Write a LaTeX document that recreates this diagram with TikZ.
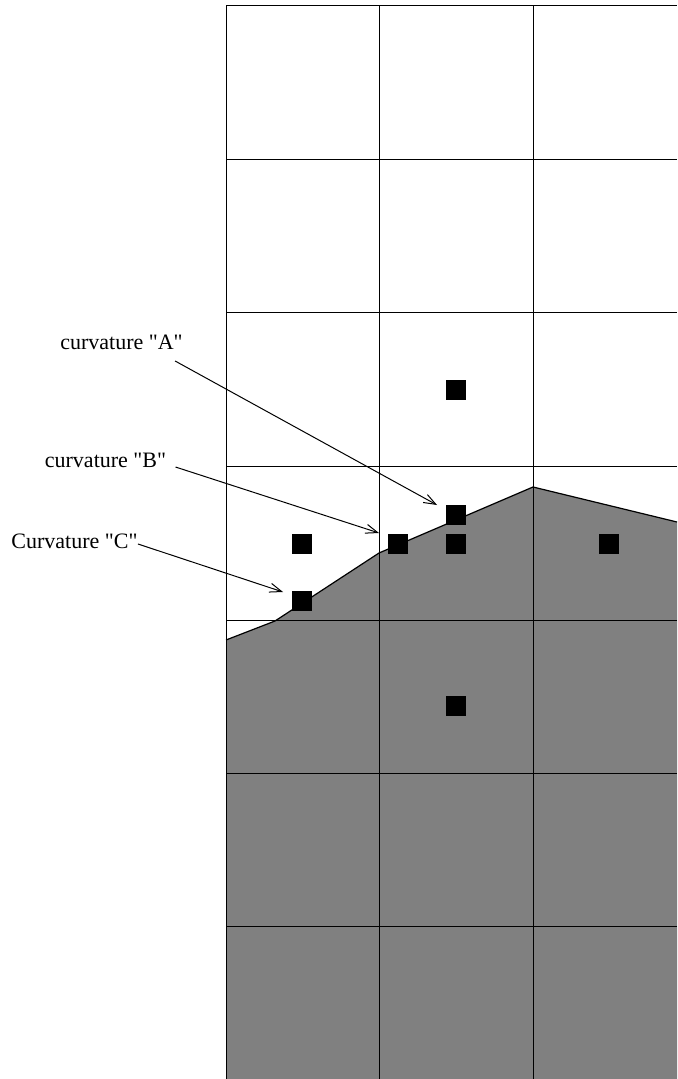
\documentclass[tikz,border=0pt]{standalone}
\usepackage{fontspec}
\setmainfont{Liberation Serif}
\usetikzlibrary{arrows.meta}
\definecolor{fillgray}{HTML}{808080}
\tikzset{
  every picture/.style={line join=miter, >=Stealth},
  gridline/.style={line width=0.5pt},
  dotsq/.style={fill=black, inner sep=0pt, minimum size=10pt},
  curvlabel/.style={font=\fontsize{11}{13}\selectfont, inner sep=0pt, anchor=base},
  pointer/.style={line width=0.5pt, -{Straight Barb[length=6pt,width=4.5pt]}},
}
\newcommand{\qq}[1]{\textquotedbl#1\textquotedbl}

\begin{document}
\begin{tikzpicture}[x=0.5pt,y=-0.5pt]
\useasboundingbox (0,0) rectangle (677,1079);
% shaded region below the interface
\fill[fillgray] (226,640) -- (275,621) -- (379,553) -- (533,487) -- (677,522)
  -- (677,1079) -- (226,1079) -- cycle;
\draw[line width=0.6pt] (226,640) -- (275,621) -- (379,553) -- (533,487) -- (677,522);
% cell grid
\foreach \x in {226,379,533}
  \draw[gridline] (\x,6) -- (\x,1079);
\foreach \y in {6,160,313,466,620,773,926}
  \draw[gridline] (226,\y) -- (677,\y);
% cell centres and interface points
\node[dotsq] (p1) at (456,390) {};
\node[dotsq] (p2) at (456,515) {};
\node[dotsq] (p3) at (302,544) {};
\node[dotsq] (p4) at (398,544) {};
\node[dotsq] (p5) at (456,544) {};
\node[dotsq] (p6) at (609,544) {};
\node[dotsq] (p7) at (302,601) {};
\node[dotsq] (p8) at (456,706) {};
% labels
\node[curvlabel] (labA) at (121.5,350) {curvature \qq{A}};
\node[curvlabel] (labB) at (105.5,467) {curvature \qq{B}};
\node[curvlabel] (labC) at (74.5,548) {Curvature \qq{C}};
\coordinate (tipA) at (437,505);
\coordinate (tipB) at (379,533);
\coordinate (tipC) at (283,592);
\draw[pointer] ([shift={(-8,11)}]labA.base east) -- (tipA);
\draw[pointer] ([shift={(9,0)}]labB.base east) -- (tipB);
\draw[pointer] ([shift={(0,-4)}]labC.base east) -- (tipC);
\end{tikzpicture}
\end{document}
